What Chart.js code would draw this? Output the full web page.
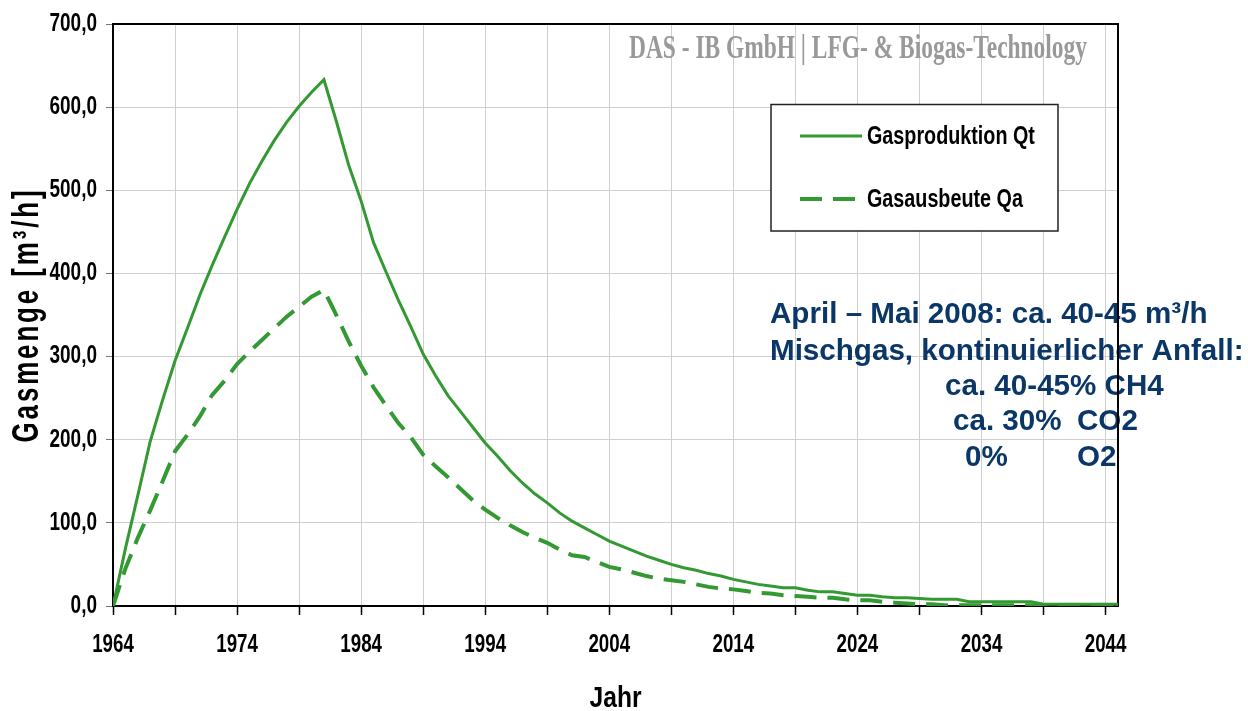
<!DOCTYPE html>
<html>
<head>
<meta charset="utf-8">
<script src="https://cdn.jsdelivr.net/npm/chart.js@4.4.0/dist/chart.umd.min.js"></script>
<style>
html,body{margin:0;padding:0;background:#ffffff;}
canvas{display:block;}
</style>
</head>
<body>
<canvas id="c" width="1248" height="711"></canvas>
<script>
// ---------------- data ----------------
const years = [1964,1965,1966,1967,1968,1969,1970,1971,1972,1973,1974,1975,1976,1977,1978,1979,
  1980,1981,1982,1983,1984,1985,1986,1987,1988,1989,1990,1991,1992,1993,1994,1995,1996,1997,1998,1999,
  2000,2001,2002,2003,2004,2005,2006,2007,2008,2009,2010,2011,2012,2013,2014,2015,2016,2017,2018,2019,
  2020,2021,2022,2023,2024,2025,2026,2027,2028,2029,2030,2031,2032,2033,2034,2035,2036,2037,2038,2039,
  2040,2041,2042,2043,2044,2045];

const gasproduktionQt = [0,69,133,198,248,295,334,374,410,444,477,508,535,560,582,601,
  618,633,583,530,487,437,402,368,336,303,277,253,234,215,196,180,163,148,135,124,
  112,102,94,86,78,72,66,60,55,50,46,43,39,36,32,29,26,24,22,22,
  19,17,17,15,13,13,11,10,10,9,8,8,8,5,5,5,5,5,5,2,
  2,2,2,2,2,2];

const gasausbeuteQa = [0,45,82,115,150,186,206,228,254,271,291,306,320,334,348,360,
  372,380,350,318,289,263,241,220,203,182,168,155,141,127,116,106,97,89,82,76,
  68,61,59,53,47,44,40,36,33,31,29,26,23,21,20,18,16,15,13,12,
  11,10,10,8,7,7,5,4,3,2,2,1,1,1,1,1,1,1,1,1,
  1,1,1,1,1,1];

const seriesNames = ['Gasproduktion Qt', 'Gasausbeute Qa'];
const xTickYears = [1964,1969,1974,1979,1984,1989,1994,1999,2004,2009,2014,2019,2024,2029,2034,2039,2044];
const xLabelYears = [1964,1974,1984,1994,2004,2014,2024,2034,2044];
const yTickValues = [0,100,200,300,400,500,600,700];
const xTitle = 'Jahr';
const yTitle = 'Gasmenge [m³/h]';
const watermarkText = 'DAS - IB GmbH | LFG- & Biogas-Technology';
const noteTexts = ['April – Mai 2008: ca. 40-45 m³/h', 'Mischgas, kontinuierlicher Anfall:',
  'ca. 40-45% CH4', 'ca. 30%', 'CO2', '0%', 'O2'];

// ---------------- styles ----------------
const SANS = "'Liberation Sans',Arial,sans-serif";
const GREEN = '#339933';

const toPts = (vals) => years.map((y, i) => ({x: y, y: vals[i]}));

// draw text horizontally condensed (Arial Narrow look) while fn runs
function withCondensed(ctx, sx, fn) {
  const orig = CanvasRenderingContext2D.prototype.fillText;
  ctx.fillText = function (t, x, y, mw) {
    this.save();
    this.translate(x, y);
    this.scale(sx, 1);
    orig.call(this, t, 0, 0);
    this.restore();
  };
  try { fn(); } finally { delete ctx.fillText; }
}

function patchScale(s, key, sx, ls) {
  const orig = s[key];
  s[key] = function (...args) {
    const ctx = this.ctx;
    ctx.save();
    if (ls) ctx.letterSpacing = ls;
    withCondensed(ctx, sx, () => orig.apply(this, args));
    ctx.restore();
  };
}

const decor = {
  id: 'decor',
  beforeDraw(chart) {
    const {x, y} = chart.scales;
    if (!y.__patched) {
      patchScale(y, 'drawLabels', 0.76);
      patchScale(y, 'drawTitle', 0.72, '4px');
      y.__patched = true;
    }
    if (!x.__patched) {
      patchScale(x, 'drawLabels', 0.75);
      patchScale(x, 'drawTitle', 0.82);
      x.__patched = true;
    }
  },
  beforeDatasetsDraw(chart) {
    const ctx = chart.ctx, a = chart.chartArea;
    // watermark
    ctx.save();
    ctx.font = "bold 33px 'Liberation Serif','Times New Roman',serif";
    ctx.fillStyle = '#999999';
    ctx.textBaseline = 'alphabetic';
    ctx.translate(629, 58);
    ctx.scale(0.71, 1);
    ctx.fillText(watermarkText, 0, 0);
    ctx.restore();
    // note
    ctx.save();
    ctx.font = "bold 29.6px " + SANS;
    ctx.fillStyle = '#0a3768';
    ctx.textBaseline = 'alphabetic';
    const pos = [[770,323],[770,360],[945,395],[953,430],[1077,430],[965,466],[1077,466]];
    noteTexts.forEach((t, i) => ctx.fillText(t, pos[i][0], pos[i][1]));
    ctx.restore();
    // frame top/right
    ctx.save();
    ctx.strokeStyle = '#000';
    ctx.lineWidth = 2;
    ctx.beginPath();
    ctx.moveTo(a.left, a.top);
    ctx.lineTo(a.right, a.top);
    ctx.lineTo(a.right, a.bottom);
    ctx.stroke();
    ctx.restore();
  },
  afterDatasetsDraw(chart) {
    const ctx = chart.ctx;
    ctx.save();
    ctx.fillStyle = '#fff';
    ctx.fillRect(771, 104.5, 287, 126.5);
    ctx.strokeStyle = '#222';
    ctx.lineWidth = 1.5;
    ctx.strokeRect(771, 104.5, 287, 126.5);
    const rows = [136, 199];
    chart.data.datasets.forEach((ds, i) => {
      ctx.save();
      ctx.strokeStyle = ds.borderColor;
      ctx.lineWidth = ds.borderWidth;
      ctx.setLineDash(ds.borderDash || []);
      ctx.beginPath();
      ctx.moveTo(800, rows[i]);
      ctx.lineTo(862, rows[i]);
      ctx.stroke();
      ctx.restore();
      ctx.save();
      ctx.fillStyle = '#000';
      ctx.font = 'bold 25px ' + SANS;
      ctx.textBaseline = 'middle';
      ctx.translate(867, rows[i] + 1);
      ctx.scale(0.79, 1);
      ctx.fillText(ds.label, 0, 0);
      ctx.restore();
    });
    ctx.restore();
  }
};

new Chart(document.getElementById('c'), {
  type: 'line',
  data: {
    datasets: [
      {label: seriesNames[0], data: toPts(gasproduktionQt), borderColor: GREEN, borderWidth: 3,
       pointRadius: 0, tension: 0, fill: false},
      {label: seriesNames[1], data: toPts(gasausbeuteQa), borderColor: GREEN, borderWidth: 4,
       borderDash: [22, 11], borderCapStyle: 'butt', pointRadius: 0, tension: 0, fill: false}
    ]
  },
  options: {
    responsive: false,
    animation: false,
    events: [],
    devicePixelRatio: 1,
    layout: {padding: {top: 19, right: 130, left: 0, bottom: 0}},
    plugins: {legend: {display: false}, tooltip: {enabled: false}},
    scales: {
      x: {
        type: 'linear', min: 1964, max: 2045,
        afterBuildTicks: (s) => { s.ticks = xTickYears.map(v => ({value: v})); },
        afterFit: (s) => { s.height = 105; },
        grid: {color: '#cfcfcf', lineWidth: 1, tickLength: 9, tickColor: '#000', tickWidth: 1.5},
        border: {color: '#000', width: 2},
        ticks: {
          autoSkip: false, maxRotation: 0, padding: 15, color: '#000',
          font: {family: SANS, size: 25, weight: 'bold'},
          callback: (v) => xLabelYears.includes(v) ? String(v) : ''
        },
        title: {display: true, text: xTitle, color: '#000',
          font: {family: SANS, size: 30, weight: 'bold', lineHeight: 0.8}, padding: {top: 0, bottom: 0}}
      },
      y: {
        min: 0, max: 700,
        afterBuildTicks: (s) => { s.ticks = yTickValues.map(v => ({value: v})); },
        afterFit: (s) => { s.width = 113; },
        grid: {color: '#cfcfcf', lineWidth: 1, tickLength: 7, tickColor: '#777'},
        border: {color: '#000', width: 2},
        ticks: {
          padding: 9, color: '#000',
          font: {family: SANS, size: 25, weight: 'bold'},
          callback: (v) => v.toFixed(1).replace('.', ',')
        },
        title: {display: true, text: yTitle, color: '#000',
          font: {family: SANS, size: 36, weight: 'bold', lineHeight: 1}, padding: {top: 10, bottom: 0}}
      }
    }
  },
  plugins: [decor]
});
</script>
</body>
</html>
